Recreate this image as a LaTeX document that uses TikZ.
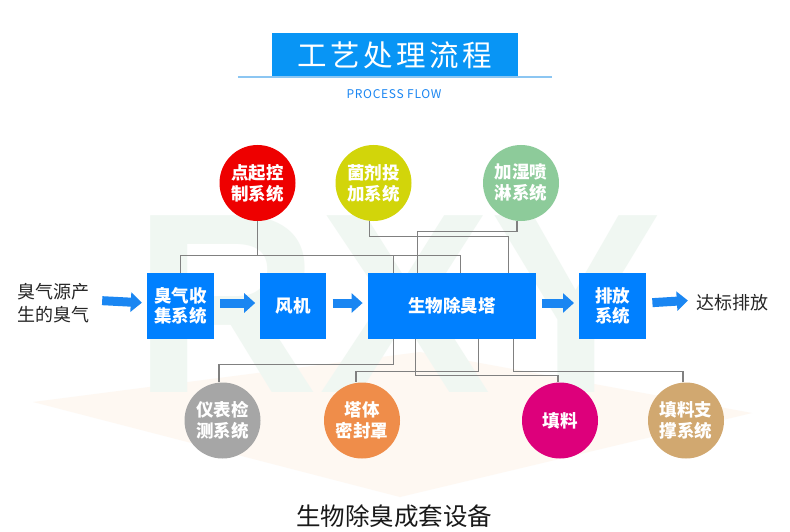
\documentclass[tikz,border=0pt]{standalone}
\usepackage{fontspec}
\setmainfont{Noto Sans CJK SC}
\newfontfamily\markfont{Liberation Sans}
\usetikzlibrary{arrows.meta, positioning}
\definecolor{cBox}{HTML}{0080FF}
\definecolor{cTitle}{HTML}{0895F5}
\definecolor{cArrow}{HTML}{1A86F2}
\definecolor{cRule}{HTML}{8CC6F2}
\definecolor{cLink}{HTML}{808080}
\definecolor{cRed}{HTML}{EE0000}
\definecolor{cLime}{HTML}{D2D50A}
\definecolor{cMint}{HTML}{8DCB9A}
\definecolor{cGrey}{HTML}{A6A6A6}
\definecolor{cOrange}{HTML}{EF8D4A}
\definecolor{cMagenta}{HTML}{DD007B}
\definecolor{cTan}{HTML}{D1A870}
\definecolor{cMark}{HTML}{F0F7F2}
\definecolor{cPeach}{HTML}{FEF8F2}
\tikzset{
  procbox/.style={fill=cBox, text=white, align=center, inner sep=0pt,
    font=\bfseries\fontsize{17.5}{20}\selectfont, minimum height=66pt},
  sysball/.style={circle, minimum size=76pt, inner sep=0pt, text=white,
    align=center, font=\bfseries\fontsize{17.5}{21}\selectfont},
  flowarrow/.style={draw=cArrow, line width=9pt,
    -{Triangle[length=11pt, width=19pt]}, shorten <=6pt, shorten >=5pt},
  link/.style={draw=cLink, line width=1.2pt},
  sidetext/.style={text=black!85, align=center, inner sep=0pt,
    font=\fontsize{18}{23}\selectfont},
  titlebox/.style={fill=cTitle, text=white, minimum width=246pt,
    minimum height=44pt, inner sep=0pt,
    font=\fontsize{29.5}{29.5}\selectfont\addfontfeature{LetterSpace=12}},
}

\begin{document}
\begin{tikzpicture}[x=1pt, y=-1pt]

  \useasboundingbox[fill=white] (0,0) rectangle (790,532);

  % background: faint wedge and watermark
  \fill[cPeach] (33,402) -- (420,352) -- (752,413) -- (400,497) -- cycle;
  \node[text=cMark, inner sep=0pt, font=\markfont\bfseries\fontsize{257}{257}\selectfont]
    (mark) at (398,304) {RXY};

  % ----------------------------------------------------------------
  % Title
  % ----------------------------------------------------------------
  \node[titlebox] (title) at (395,55) {工艺处理流程};
  \draw[draw=cRule, line width=1.5pt]
    ([xshift=-34pt]title.south west) -- ([xshift=34pt]title.south east);
  \node[text=cArrow, inner sep=0pt, font=\fontsize{12}{12}\selectfont\addfontfeature{LetterSpace=6}]
    (subtitle) at (394,94) {PROCESS FLOW};

  % ----------------------------------------------------------------
  % Main line
  % ----------------------------------------------------------------
  \node[sidetext] (source) at (53,303) {臭气源产\\生的臭气};
  \node[procbox, minimum width=67pt] (collect) at (180.5,306) {臭气收\\集系统};
  \node[procbox, minimum width=66pt, right=46pt of collect] (fan) {风机};
  \node[procbox, minimum width=168pt, right=41pt of fan] (tower) {生物除臭塔};
  \node[procbox, minimum width=67pt, right=43pt of tower] (exhaust) {排放\\系统};
  \node[sidetext] (outlet) at (732,303) {达标排放};

  \draw[flowarrow, shorten <=13pt] ([yshift=3pt]source.east) -- ([yshift=3pt]collect.west);
  \draw[flowarrow] ([yshift=3pt]collect.east) -- ([yshift=3pt]fan.west);
  \draw[flowarrow] ([yshift=3pt]fan.east) -- ([yshift=3pt]tower.west);
  \draw[flowarrow] ([yshift=3pt]tower.east) -- ([yshift=3pt]exhaust.west);
  \draw[flowarrow, shorten >=8pt] ([yshift=3pt]exhaust.east) -- ([yshift=3pt]outlet.west);

  % ----------------------------------------------------------------
  % Upper subsystems
  % ----------------------------------------------------------------
  \node[sysball, fill=cRed] (ignite) at (257.5,183) {点起控\\制系统};
  \node[sysball, fill=cLime] (dose) at (373.5,183) {菌剂投\\加系统};
  \node[sysball, fill=cMint] (spray) at (521,183) {加湿喷\\淋系统};

  \draw[link] (collect.north) -- ++(0,-17) coordinate (bus) -| ([xshift=93pt]tower.north west);
  \draw[link] (ignite.south) -- (ignite.south |- bus);
  \draw[link] ([xshift=26pt]tower.north west) -- ([xshift=26pt]tower.north west |- bus);
  \draw[link] ([xshift=-4pt]dose.south) -- ++(0,15) -| ([xshift=141pt]tower.north west);
  \draw[link] ([xshift=-4pt]spray.south) -- ++(0,10) -| ([xshift=50pt]tower.north west);

  % ----------------------------------------------------------------
  % Lower subsystems
  % ----------------------------------------------------------------
  \node[sysball, fill=cGrey] (gauge) at (222.5,420.5) {仪表检\\测系统};
  \node[sysball, fill=cOrange] (seal) at (362,420.5) {塔体\\密封罩};
  \node[sysball, fill=cMagenta] (packing) at (560,420.5) {填料};
  \node[sysball, fill=cTan] (support) at (686,420.5) {填料支\\撑系统};

  \draw[link] ([xshift=26pt]tower.south west) -- ++(0,25) -| ([xshift=-3.5pt]gauge.north);
  \draw[link] ([xshift=111pt]tower.south west) -- ++(0,32) -| ([xshift=-6pt]seal.north);
  \draw[link] ([xshift=48pt]tower.south west) -- ++(0,36) -| ([xshift=-2pt]packing.north);
  \draw[link] ([xshift=146pt]tower.south west) -- ++(0,32) -| ([xshift=-3pt]support.north);

  \node[text=black!90, inner sep=0pt, font=\fontsize{24.5}{24.5}\selectfont]
    (caption) at (394,516) {生物除臭成套设备};

\end{tikzpicture}
\end{document}
